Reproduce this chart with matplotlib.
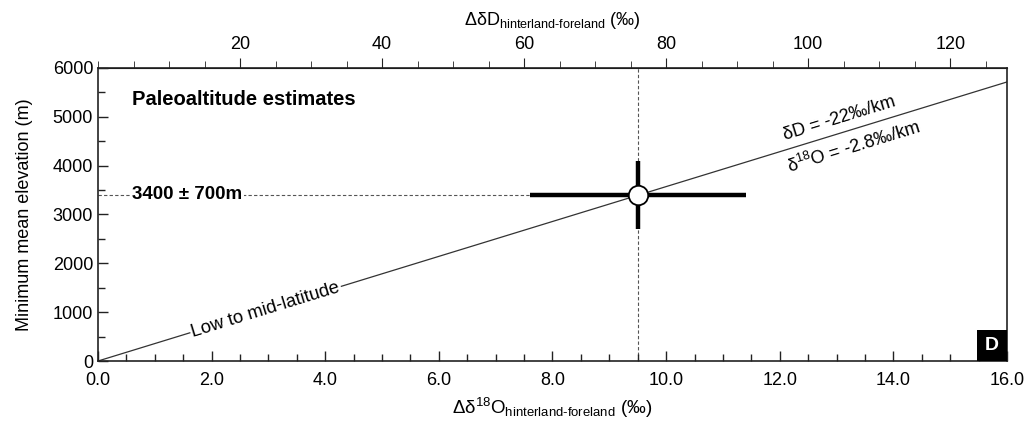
"""Paleoaltitude estimate: isotopic lapse-rate line with the 3400 ± 700 m estimate."""
import matplotlib
matplotlib.use("Agg")
import matplotlib.pyplot as plt
import numpy as np
from matplotlib.patches import Rectangle
from matplotlib.ticker import FixedLocator, MultipleLocator, FormatStrFormatter

plt.rcParams["font.family"] = ["Liberation Sans", "DejaVu Sans"]
plt.rcParams["mathtext.fontset"] = "custom"
plt.rcParams["mathtext.rm"] = "Liberation Sans"
plt.rcParams["mathtext.it"] = "Liberation Sans:italic"
plt.rcParams["mathtext.bf"] = "Liberation Sans:bold"

# lapse-rate line (delta18O -2.8 permil/km), two end points
line_d18o = [0.0, 16.0]
line_elev = [0.0, 5714.0]

# estimate and its uncertainty
est_d18o = 9.5
est_d18o_err = 1.9
est_elev = 3400.0
est_elev_err = 700.0

dD_factor = 8.0  # top axis: delta D = 8 x delta18O
top_ticks = [20, 40, 60, 80, 100, 120]

fig = plt.figure(figsize=(10.24, 4.21), dpi=100)
ax = fig.add_axes([0.0957, 0.1425, 0.8877, 0.696])

ax.plot(line_d18o, line_elev, color="#333333", lw=0.9, zorder=2)

# guide lines through the estimate
ax.plot([est_d18o, est_d18o], [0, 6000], ls=(0, (3, 2)), color="#555555", lw=0.8, zorder=1)
ax.plot([0, est_d18o - est_d18o_err], [est_elev, est_elev], ls=(0, (3, 2)),
        color="#555555", lw=0.8, zorder=1)

ax.errorbar([est_d18o], [est_elev], xerr=[est_d18o_err], yerr=[est_elev_err],
            fmt="o", ms=14, mfc="white", mec="black", mew=1.3,
            ecolor="black", elinewidth=3.2, capsize=0, zorder=4)

ax.set_xlim(0, 16)
ax.set_ylim(0, 6000)
ax.xaxis.set_major_locator(MultipleLocator(2))
ax.xaxis.set_minor_locator(MultipleLocator(0.5))
ax.xaxis.set_major_formatter(FormatStrFormatter("%.1f"))
ax.yaxis.set_major_locator(MultipleLocator(1000))
ax.yaxis.set_minor_locator(MultipleLocator(500))
ax.tick_params(axis="both", which="both", direction="in", labelsize=13,
               color="#222222", width=1.0)
ax.tick_params(which="major", length=7)
ax.tick_params(which="minor", length=5)
ax.tick_params(axis="x", pad=8)
for s in ax.spines.values():
    s.set_linewidth(1.2)
    s.set_color("#222222")

ax.set_xlabel(r"Δδ$^{18}$O$_{\text{hinterland-foreland}}$ (‰)", fontsize=13.5, labelpad=5)
ax.set_ylabel("Minimum mean elevation (m)", fontsize=13, labelpad=14)

top = ax.secondary_xaxis("top", functions=(lambda x: x * dD_factor, lambda x: x / dD_factor))
top.xaxis.set_major_locator(FixedLocator(top_ticks))
top.xaxis.set_minor_locator(MultipleLocator(5))
top.tick_params(axis="x", which="both", direction="out", labelsize=13, color="#222222")
top.tick_params(which="major", length=7)
top.tick_params(which="minor", length=5)
top.set_xlabel(r"ΔδD$_{\text{hinterland-foreland}}$ (‰)", fontsize=13, labelpad=8)

# annotations
ax.text(0.6, 5365, "Paleoaltitude estimates", fontsize=14.5, fontweight="bold",
        ha="left", va="center")
ax.text(0.6, est_elev, "3400 ± 700m", fontsize=13.5, fontweight="bold", ha="left",
        va="center", bbox=dict(fc="white", ec="none", pad=1.5), zorder=3)

# rotation of the lapse-rate line on screen
p0 = ax.transData.transform((line_d18o[0], line_elev[0]))
p1 = ax.transData.transform((line_d18o[1], line_elev[1]))
ang = np.degrees(np.arctan2(p1[1] - p0[1], p1[0] - p0[0]))

ax.text(2.95, 2.95 / 16 * line_elev[1], "Low to mid-latitude", fontsize=13.2,
        rotation=ang, rotation_mode="anchor", ha="center", va="center",
        bbox=dict(fc="white", ec="none", pad=1.0), zorder=3)
ax.text(13.05, 13.05 / 16 * line_elev[1] + 310, "δD = -22‰/km", fontsize=13,
        rotation=ang, rotation_mode="anchor", ha="center", va="center")
ax.text(13.3, 13.3 / 16 * line_elev[1] - 360, r"δ$^{18}$O = -2.8‰/km", fontsize=13,
        rotation=ang, rotation_mode="anchor", ha="center", va="center")

# panel letter in the lower-right corner
ax.add_patch(Rectangle((0.967, 0.0), 0.033, 0.106, transform=ax.transAxes,
                       fc="black", ec="none", zorder=5, clip_on=False))
ax.text(0.9835, 0.053, "D", transform=ax.transAxes, fontsize=14, fontweight="bold",
        color="white", ha="center", va="center", zorder=6)

fig.savefig("out.png", dpi=100)
